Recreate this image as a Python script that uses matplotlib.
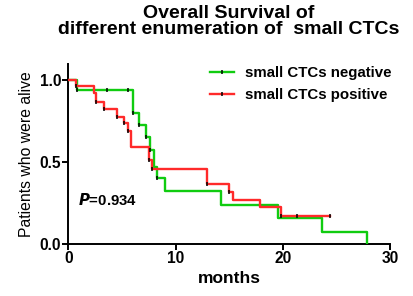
import matplotlib
matplotlib.use("Agg")
import matplotlib.pyplot as plt
import numpy as np
from matplotlib.lines import Line2D

# Kaplan-Meier step data
neg_times = [0, 0.8, 6.0, 6.55, 7.2, 7.6, 7.95, 8.25, 9.05, 14.2, 19.6, 23.7, 27.9]
neg_surv = [1.0, 0.94, 0.80, 0.726, 0.654, 0.573, 0.47, 0.40, 0.32, 0.24, 0.157, 0.075, 0.0]
neg_end = 27.9
neg_censor = [0.8, 3.6, 5.55, 6.0, 6.55, 7.2, 7.6, 8.25]

pos_times = [0, 0.7, 2.4, 2.6, 3.35, 4.5, 5.15, 5.55, 5.85, 7.5, 7.8, 12.9, 14.95, 15.4, 17.9, 19.8]
pos_surv = [1.0, 0.963, 0.92, 0.868, 0.821, 0.776, 0.736, 0.69, 0.593, 0.512, 0.455, 0.366, 0.319, 0.268, 0.224, 0.171]
pos_end = 24.4
pos_censor = [0.7, 2.6, 3.35, 4.5, 5.15, 5.55, 7.5, 7.8, 12.9, 14.95, 19.8, 21.3, 24.4]

x_ticks = [0, 10, 20, 30]
y_ticks = [0.0, 0.5, 1.0]
y_tick_labels = ["0.0", "0.5", "1.0"]

title = "Overall Survival of\ndifferent enumeration of  small CTCs"
labels = ["small CTCs negative", "small CTCs positive"]
colors = ["#10cc10", "#ff2a2a"]

plt.rcParams['font.family'] = ['Liberation Sans', 'DejaVu Sans']

fig = plt.figure(figsize=(4.14, 2.96), dpi=100)
ax = fig.add_axes([0.165, 0.176, 0.777, 0.609])


def step_value(times, surv, t):
    idx = np.searchsorted(times, t, side='right') - 1
    return surv[idx]


for times, surv, end, cens, col, lab in [
    (neg_times, neg_surv, neg_end, neg_censor, colors[0], labels[0]),
    (pos_times, pos_surv, pos_end, pos_censor, colors[1], labels[1]),
]:
    xs = list(times) + [end]
    ys = list(surv) + [surv[-1]]
    ax.step(xs, ys, where='post', color=col, lw=1.7, label=lab, zorder=3)
    cy = [step_value(times, surv, c) for c in cens]
    ax.plot(cens, cy, ls='none', marker='|', color='black', ms=3, mew=1.1, zorder=4)

ax.set_xlim(0, 30)
ax.set_ylim(0, 1.1)
ax.set_xticks(x_ticks)
ax.set_yticks(y_ticks)
ax.set_yticklabels(y_tick_labels)
for s in ['top', 'right']:
    ax.spines[s].set_visible(False)
for s in ['left', 'bottom']:
    ax.spines[s].set_linewidth(1.4)
ax.tick_params(direction='out', length=4, width=1.4, labelsize=11.2, pad=1)
for lbl in ax.get_xticklabels() + ax.get_yticklabels():
    lbl.set_fontweight('bold')

ax.set_xlabel("months", fontsize=12.5, fontweight='bold', labelpad=4)
ax.set_ylabel("Patients who were alive", fontsize=11.3, labelpad=4)

fig.text(0.553, 0.982, title, ha='center', va='top', fontsize=14,
         fontweight='bold', linespacing=0.9)

ax.text(0.9, 0.27, r"$\mathbfit{P}$" + "=0.934", fontsize=10.8, fontweight='bold',
        va='center', ha='left')

handles = []
for col in colors:
    handles.append(Line2D([0], [0], color=col, lw=1.7, marker='|', ms=3,
                          mec='black', mew=1.1, markevery=[1]))
leg = ax.legend(handles, labels, loc='upper left', bbox_to_anchor=(0.40, 1.06),
                frameon=False, fontsize=10.8, handlelength=1.6, handletextpad=0.7,
                labelspacing=0.5)
for t in leg.get_texts():
    t.set_fontweight('bold')

fig.savefig("out.png", dpi=100)
